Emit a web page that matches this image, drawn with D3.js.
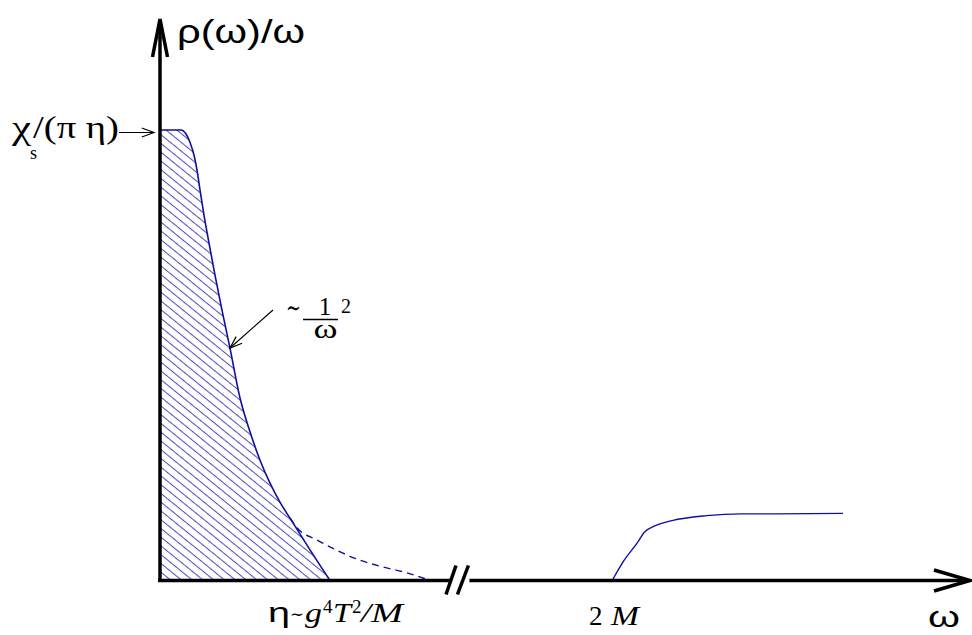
<!DOCTYPE html>
<html><head><meta charset="utf-8">
<script src="https://cdn.jsdelivr.net/npm/d3@7"></script>
<style>body{margin:0;background:#fff}svg{display:block}</style>
</head><body><svg id="c" width="972" height="635"></svg>
<script>
// ---- data (ω in arbitrary units, ρ(ω)/ω normalised to χs/(πη) = 1) ----
const mainX = [0, 2.59, 3.21, 3.70, 4.20, 4.57, 4.94, 5.43, 6.05, 6.79, 7.65, 8.64, 9.88, 11.11, 12.35, 13.58, 14.81, 16.42, 18.52, 20.99];
const mainY = [1, 1, 0.991, 0.973, 0.944, 0.911, 0.867, 0.811, 0.749, 0.678, 0.600, 0.516, 0.405, 0.330, 0.267, 0.216, 0.174, 0.128, 0.068, 0];
const tailX = [16.05, 16.91, 19.38, 21.85, 24.69, 27.53, 30.49, 33.33];
const tailY = [0.139, 0.117, 0.090, 0.067, 0.045, 0.030, 0.017, 0];
const thrX = [55.83, 57.23, 58.94, 59.79, 61.07, 63.21, 67.47, 71.73, 75.99, 84.32];
const thrY = [0, 0.043, 0.084, 0.107, 0.121, 0.133, 0.144, 0.148, 0.148, 0.149];
const axisBreak = [35.8, 38.2];
const peakLabel = ["χ", "s", "/(π η)"];
const xLabel = "ω";
const yLabel = "ρ(ω)/ω";

const svg = d3.select("#c");
const x = d3.scaleLinear().domain([0, 100]).range([160, 970]);
const y = d3.scaleLinear().domain([0, 1]).range([580.5, 130]);

const blue = "#10109a";
const defs = svg.append("defs");
const pat = defs.append("pattern").attr("id", "hatch").attr("patternUnits", "userSpaceOnUse")
  .attr("width", 6.8).attr("height", 6.8).attr("patternTransform", "rotate(39)");
pat.append("line").attr("x1", 0).attr("x2", 6.8).attr("y1", 3.4).attr("y2", 3.4)
  .attr("stroke", "#5050c0").attr("stroke-width", 1.05);

const main = mainX.map((v, i) => [v, mainY[i]]);
const tail = tailX.map((v, i) => [v, tailY[i]]);
const thr = thrX.map((v, i) => [v, thrY[i]]);

svg.append("path").datum(main)
  .attr("d", d3.area().x(d => x(d[0])).y0(y(0)).y1(d => y(d[1])).curve(d3.curveMonotoneX))
  .attr("fill", "url(#hatch)");

const line = d3.line().x(d => x(d[0])).y(d => y(d[1])).curve(d3.curveMonotoneX);
svg.append("path").datum(main).attr("d", line).attr("fill", "none").attr("stroke", blue).attr("stroke-width", 1.6);
svg.append("path").datum(tail).attr("d", line).attr("fill", "none").attr("stroke", blue).attr("stroke-width", 1.4).attr("stroke-dasharray", "7,5");
svg.append("path").datum(thr).attr("d", line).attr("fill", "none").attr("stroke", blue).attr("stroke-width", 1.4);

// axes
const ax = svg.append("g").attr("stroke", "#000").attr("fill", "none").attr("stroke-width", 3.5);
ax.append("line").attr("x1", x(0)).attr("x2", x(0)).attr("y1", y(0) + 1.5).attr("y2", 22);
ax.append("path").attr("d", `M${x(0) - 7.5},57 L${x(0)},19 L${x(0) + 7.5},57`);
ax.append("line").attr("x1", x(0) - 2).attr("x2", x(axisBreak[0])).attr("y1", y(0)).attr("y2", y(0));
ax.append("line").attr("x1", x(axisBreak[1])).attr("x2", x(100) - 2).attr("y1", y(0)).attr("y2", y(0));
ax.append("path").attr("d", `M${x(100) - 36},${y(0) - 10.5} L${x(100)},${y(0)} L${x(100) - 36},${y(0) + 10.5}`);
const bx0 = x(axisBreak[0]), bx1 = x(axisBreak[1]);
ax.append("line").attr("x1", bx0 - 4).attr("y1", y(0) + 14).attr("x2", bx0 + 6).attr("y2", y(0) - 15);
ax.append("line").attr("x1", bx1 - 12).attr("y1", y(0) + 14).attr("x2", bx1 - 1).attr("y2", y(0) - 15);

// small arrows
function arrow(x1, y1, x2, y2) {
  const a = Math.atan2(y2 - y1, x2 - x1), L = 13, w = 0.35;
  svg.append("line").attr("x1", x1).attr("y1", y1).attr("x2", x2).attr("y2", y2).attr("stroke", "#000").attr("stroke-width", 1.2);
  svg.append("path").attr("d", `M${x2 - L * Math.cos(a - w)},${y2 - L * Math.sin(a - w)} L${x2},${y2} L${x2 - L * Math.cos(a + w)},${y2 - L * Math.sin(a + w)}`)
    .attr("fill", "none").attr("stroke", "#000").attr("stroke-width", 1.2);
}
arrow(119, y(1) + 2.5, 154, y(1) + 2.5);
arrow(273, 310, x(8.64), y(0.516));

// texts
const serif = "'Liberation Serif', 'Times New Roman', serif";
const sans = "'Liberation Sans', Arial, sans-serif";
const tilde = "'DejaVu Serif', serif";
function txt(s, px, py, size, fam, opts = {}) {
  const t = svg.append("text").attr("x", px).attr("y", py).attr("font-size", size).attr("font-family", fam).text(s);
  if (opts.italic) t.attr("font-style", "italic");
  if (opts.len) t.attr("textLength", opts.len).attr("lengthAdjust", "spacingAndGlyphs");
  if (opts.anchor) t.attr("text-anchor", opts.anchor);
  return t;
}
txt(yLabel, 177, 43, 33, sans, { len: 128 });
txt(peakLabel[0], 12, 139, 33, serif, { len: 19 });
txt(peakLabel[1], 30, 159, 18, serif);
txt(peakLabel[2], 33, 138, 31, serif, { len: 86 });
// ~ 1/ω^2
txt("∼", 286, 317, 27, tilde, { len: 15 });
txt("1", 325, 315, 25, serif, { anchor: "middle" });
svg.append("line").attr("x1", 303).attr("x2", 338).attr("y1", 319.5).attr("y2", 319.5).attr("stroke", "#000").attr("stroke-width", 1.5);
txt("ω", 325.5, 338, 27, serif, { anchor: "middle", len: 24 });
txt("2", 341, 313, 20, serif);
// η ~ g^4 T^2 / M
txt("η", 268, 622, 28, sans, { len: 22 });
txt("∼", 290, 620, 17, tilde, { len: 14 });
txt("g", 305, 622, 27, serif, { italic: true, len: 17 });
txt("4", 323, 613, 19, serif);
txt("T", 333, 622, 27, serif, { italic: true, len: 18 });
txt("2", 352, 613, 19, serif);
txt("/", 361, 622, 27, serif, { italic: true, len: 10 });
txt("M", 371, 622, 27, serif, { italic: true, len: 32 });
// 2M
txt("2", 589, 625, 27, serif);
txt("M", 611, 625, 27, serif, { italic: true, len: 28 });
txt(xLabel, 928, 627, 30, sans, { len: 32 });
</script></body></html>
